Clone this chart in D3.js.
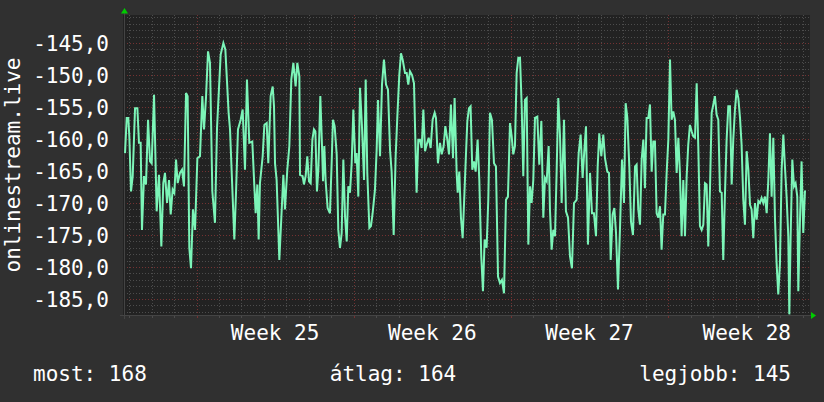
<!DOCTYPE html>
<meta charset="utf-8">
<style>

body { margin: 0; background: #303030; }
svg { display: block; }

text {
  font-family: "DejaVu Sans Mono", monospace;
  font-size: 21px;
  fill: #fff;
}

.grid-minor line {
  stroke: #4c4c4c;
  stroke-dasharray: 1,2;
}

.grid-major line {
  stroke: #743232;
  stroke-dasharray: 1,2;
}

</style>
<svg width="824" height="402"></svg>
<script src="https://d3js.org/d3.v7.min.js"></script>
<script>

// graph window: one month ending mid July
var startTime = new Date(2023, 5, 15, 18, 30),
    spanHours = 733.1;

// hours since startTime
var hours = [1.1,2.9,4.6,5.7,7.5,9.3,11.8,14.3,16.0,17.8,19.2,21.4,23.5,25.7,27.8,29.6,32.1,34.9,37.4,39.9,
  42.0,43.8,46.0,48.1,49.9,52.0,53.8,55.6,57.4,59.8,62.0,64.1,66.3,68.0,69.8,71.6,73.7,75.9,78.4,81.2,
  83.7,85.5,87.6,89.8,91.9,94.4,97.2,99.4,103.3,106.2,108.3,111.8,113.3,117.9,119.7,121.8,124.7,126.8,129.3,131.4,
  133.9,137.1,139.3,140.7,142.5,143.9,145.3,148.2,150.0,152.5,154.2,156.7,158.9,160.3,161.4,163.1,166.0,170.3,172.0,174.5,
  176.7,178.8,181.0,183.4,185.2,187.4,
  188.1,190.9,192.3,194.1,195.9,197.7,199.5,201.3,203.0,204.5,206.2,207.7,209.8,211.6,212.7,214.1,215.5,217.6,220.1,221.9,
  223.3,225.1,227.3,229.0,230.8,232.6,234.4,236.2,238.0,239.7,241.5,243.3,245.1,247.2,248.6,250.4,252.2,254.3,256.5,258.3,
  260.0,262.2,263.9,265.7,268.2,270.0,271.4,273.6,275.7,277.8,280.0,282.1,284.3,286.0,288.2,290.3,292.1,294.2,296.0,297.8,
  300.3,302.1,303.8,305.6,307.8,309.9,312.7,314.5,316.3,318.1,319.9,321.7,323.4,325.6,327.7,329.8,332.0,333.4,335.5,337.7,
  339.5,341.6,343.4,345.5,347.3,349.4,351.6,353.3,355.5,356.6,358.3,360.1,361.9,
  365.5,366.9,368.7,370.4,372.2,374.0,375.8,377.9,379.7,381.8,383.6,385.4,387.5,389.3,391.1,393.2,395.4,397.5,399.7,401.8,
  403.9,406.1,408.2,410.3,412.5,414.3,416.0,417.8,419.6,421.4,423.2,425.0,426.7,428.5,430.3,432.1,433.9,435.6,437.4,439.2,
  441.7,443.8,446.0,448.1,449.9,451.7,453.8,455.2,457.0,458.8,460.6,462.3,464.1,465.9,467.7,470.2,472.3,474.5,476.6,478.7,
  480.9,483.7,485.9,488.0,490.1,491.9,493.7,495.8,498.0,500.1,502.2,504.4,506.2,507.9,510.1,512.2,514.0,516.5,518.3,520.1,
  522.2,524.0,525.8,527.9,530.0,532.2,534.3,536.1,537.9,540.0,541.8,543.9,
  546.1,547.8,549.6,551.4,553.2,555.0,556.7,558.5,560.3,562.1,563.9,565.6,567.4,569.2,571.0,572.8,574.5,576.3,578.1,579.9,
  581.7,583.5,585.2,587.0,588.8,590.6,592.4,594.1,595.9,597.7,599.5,601.3,603.0,604.8,606.6,608.4,610.2,612.0,613.7,615.5,
  617.3,619.1,620.9,622.6,624.4,626.2,628.0,629.8,631.5,633.3,635.1,636.9,638.7,640.4,642.2,644.0,645.8,647.6,649.4,651.1,
  652.9,654.7,656.5,658.3,660.0,661.8,663.6,665.4,667.2,669.0,670.7,672.5,674.3,676.1,677.9,679.6,681.4,683.2,685.0,686.8,
  688.5,690.3,692.1,693.9,695.7,697.4,699.2,701.0,702.8,704.6,706.3,708.1,709.9,711.0,712.4,714.2,716.0,717.7,719.5,720.6,
  722.4,724.1,725.9,727.7,728.8];

var signal = [-162.2,-156.7,-156.7,-159.6,-168.2,-165.8,-155.2,-155.2,-160.6,-160.6,-174.2,-165.8,-167.1,-157.0,-163.5,-163.8,-153.1,-171.3,-165.6,-176.8,
  -166.9,-165.3,-170.0,-166.4,-171.8,-167.9,-168.4,-163.2,-166.9,-165.3,-164.8,-167.4,-152.8,-153.3,-177.0,-180.2,-171.0,-174.2,-163.0,-162.7,
  -153.3,-158.5,-153.6,-146.3,-148.1,-168.2,-173.1,-158.3,-146.8,-145.0,-146.0,-155.9,-158.5,-175.7,-168.4,-158.5,-157.0,-155.4,-164.8,-150.7,
  -160.6,-160.4,-167.4,-171.6,-167.1,-175.7,-166.9,-162.7,-157.8,-157.5,-163.8,-153.3,-151.8,-154.9,-163.8,-166.4,-178.9,-165.6,-171.0,-164.8,
  -161.1,-150.7,-148.1,-151.8,-148.1,-150.2,
  -165.6,-165.8,-167.1,-165.8,-162.7,-166.6,-166.9,-160.1,-158.5,-158.8,-168.2,-164.8,-153.3,-161.1,-166.6,-161.1,-166.6,-170.8,-171.6,-163.8,
  -157.0,-158.0,-162.4,-174.2,-177.0,-174.7,-163.2,-172.1,-176.0,-167.4,-168.4,-163.8,-155.4,-163.8,-162.2,-169.0,-152.0,-158.0,-166.4,-150.7,
  -165.3,-173.9,-173.6,-171.6,-167.9,-161.7,-153.9,-162.7,-151.5,-147.6,-151.5,-152.3,-161.7,-165.1,-175.0,-162.7,-156.5,-150.0,-146.6,-147.6,
  -149.7,-149.7,-151.5,-149.4,-150.0,-151.3,-168.4,-160.1,-160.1,-161.4,-155.4,-161.9,-160.9,-159.8,-161.4,-157.0,-155.9,-156.7,-163.8,-160.6,
  -162.4,-161.1,-158.0,-160.1,-162.4,-154.6,-163.0,-153.6,-165.3,-168.4,-165.1,-172.3,-175.5,
  -162.2,-157.2,-155.2,-154.9,-164.8,-163.5,-165.1,-160.1,-166.4,-178.3,-183.8,-175.7,-177.0,-169.5,-155.9,-157.0,-163.8,-164.3,-181.5,-182.5,
  -182.0,-184.1,-169.5,-169.0,-157.5,-159.6,-162.4,-161.1,-149.7,-147.3,-147.3,-154.9,-165.8,-153.9,-153.6,-176.5,-167.4,-170.0,-166.4,-156.7,
  -156.5,-164.0,-157.2,-172.3,-166.1,-166.6,-161.1,-171.0,-177.3,-174.2,-175.2,-165.3,-153.6,-159.3,-170.0,-157.0,-171.3,-172.3,-178.3,-180.2,
  -170.0,-169.5,-162.2,-159.3,-166.1,-161.9,-158.0,-176.5,-165.3,-171.6,-171.6,-175.2,-164.3,-159.1,-162.7,-159.3,-163.0,-165.1,-165.3,-178.9,
  -171.8,-170.8,-174.7,-183.5,-174.2,-163.2,-170.0,-154.4,-156.7,-164.3,-172.9,-175.0,
  -164.3,-164.0,-171.0,-173.4,-163.2,-160.1,-167.7,-156.7,-156.7,-154.6,-165.1,-160.4,-160.4,-171.6,-172.3,-170.5,-177.3,-171.8,-171.8,-165.3,
  -160.1,-147.6,-157.0,-155.7,-157.0,-165.3,-159.8,-165.3,-175.2,-166.4,-175.2,-165.8,-160.9,-157.8,-158.8,-159.6,-159.8,-151.3,-161.1,-173.6,
  -174.2,-173.4,-166.9,-167.1,-176.8,-167.9,-155.9,-154.6,-153.3,-156.2,-157.0,-168.2,-168.4,-178.9,-168.7,-160.1,-154.9,-154.9,-167.1,-160.1,
  -155.4,-152.3,-153.6,-156.7,-160.9,-169.5,-173.4,-161.9,-164.8,-170.3,-171.0,-175.5,-170.0,-172.6,-169.7,-170.0,-169.2,-170.0,-169.0,-171.6,
  -166.6,-159.1,-169.0,-159.8,-172.6,-179.4,-184.3,-179.4,-164.8,-159.3,-164.3,-169.0,-175.2,-187.4,-175.2,-163.2,-167.4,-166.9,-169.0,-183.8,
  -172.6,-163.5,-174.7,-168.2,-168.2];

var yDomain = [-187.5, -140.625];
var yTicks = [-185, -180, -175, -170, -165, -160, -155, -150, -145];
var yTitle = "onlinestream.live";
var legendNames = ["most", "átlag", "legjobb"];
var legendValues = [168, 164, 145];

var svg = d3.select("svg"),
    plotLeft = 124, plotRight = 810, plotTop = 15, plotBottom = 315;

var endTime = new Date(+startTime + spanHours * 36e5);

var x = d3.scaleTime().domain([startTime, endTime]).range([plotLeft, plotRight]);
var y = d3.scaleLinear().domain(yDomain).range([plotBottom, plotTop]);

var data = hours.map(function(h, i) {
  return { t: new Date(+startTime + h * 36e5), v: signal[i] };
});

var locale = d3.formatLocale({ decimal: ",", thousands: " ", grouping: [3], currency: ["", ""], minus: "-" });
var fmt = locale.format(".1f");

// plot background
svg.append("rect")
    .attr("x", plotLeft - 1).attr("y", plotTop)
    .attr("width", plotRight - plotLeft + 1).attr("height", plotBottom - plotTop)
    .attr("fill", "#222");

// grid
var minorY = d3.range(-187, -140).filter(function(v) { return v % 5 !== 0; });
var days = d3.timeDay.range(startTime, endTime).filter(function(d) { return d.getDay() !== 1; });
var mondays = d3.timeMonday.range(startTime, endTime);

function px(v) { return Math.round(v) + 0.5; }

var gMinor = svg.append("g").attr("class", "grid-minor");
gMinor.selectAll(".h").data(minorY).enter().append("line")
    .attr("x1", plotLeft).attr("x2", plotRight)
    .attr("y1", function(d) { return px(y(d)); })
    .attr("y2", function(d) { return px(y(d)); });
gMinor.selectAll(".v").data(days).enter().append("line")
    .attr("y1", plotTop).attr("y2", plotBottom)
    .attr("x1", function(d) { return px(x(d)); })
    .attr("x2", function(d) { return px(x(d)); });

var gMajor = svg.append("g").attr("class", "grid-major");
gMajor.selectAll(".h").data(yTicks).enter().append("line")
    .attr("x1", plotLeft).attr("x2", plotRight)
    .attr("y1", function(d) { return px(y(d)); })
    .attr("y2", function(d) { return px(y(d)); });
gMajor.selectAll(".v").data(mondays).enter().append("line")
    .attr("y1", plotTop).attr("y2", plotBottom)
    .attr("x1", function(d) { return px(x(d)); })
    .attr("x2", function(d) { return px(x(d)); });

// small ticks under the time axis
svg.append("g").selectAll("line").data(days.concat(mondays)).enter().append("line")
    .attr("x1", function(d) { return px(x(d)); })
    .attr("x2", function(d) { return px(x(d)); })
    .attr("y1", plotBottom).attr("y2", plotBottom + 3)
    .attr("stroke", function(d) { return d.getDay() === 1 ? "#743232" : "#4c4c4c"; });

// axes
svg.append("line").attr("x1", plotLeft - 4).attr("x2", plotRight + 2)
    .attr("y1", plotBottom + 0.5).attr("y2", plotBottom + 0.5).attr("stroke", "#444");
svg.append("line").attr("x1", plotLeft + 0.5).attr("x2", plotLeft + 0.5)
    .attr("y1", plotTop - 2).attr("y2", plotBottom + 4).attr("stroke", "#444");

// the series
svg.append("clipPath").attr("id", "plot")
  .append("rect").attr("x", plotLeft).attr("y", plotTop)
    .attr("width", plotRight - plotLeft).attr("height", plotBottom - plotTop);

var line = d3.line()
    .x(function(d) { return x(d.t); })
    .y(function(d) { return y(d.v); });

svg.append("path")
    .datum(data)
    .attr("clip-path", "url(#plot)")
    .attr("fill", "none")
    .attr("stroke", "#7cf5b8")
    .attr("stroke-width", 2)
    .attr("d", line);

// arrows
svg.append("path")
    .attr("d", "M" + (plotLeft - 3) + "," + (plotTop - 1.5) + "L" + (plotLeft + 0.5) + "," + (plotTop - 7) +
               "L" + (plotLeft + 4) + "," + (plotTop - 1.5) + "Z")
    .attr("fill", "#00cc00");
svg.append("path")
    .attr("d", "M" + (plotRight + 1) + "," + (plotBottom - 3) + "L" + (plotRight + 6) + "," + (plotBottom + 0.5) +
               "L" + (plotRight + 1) + "," + (plotBottom + 4) + "Z")
    .attr("fill", "#00cc00");

// y labels
svg.append("g").selectAll("text").data(yTicks).enter().append("text")
    .attr("x", 109)
    .attr("y", function(d) { return y(d) + 8; })
    .attr("text-anchor", "end")
    .text(function(d) { return fmt(d); });

svg.append("text")
    .attr("transform", "translate(19.5," + ((plotTop + plotBottom) / 2) + ")rotate(-90)")
    .attr("text-anchor", "middle")
    .text(yTitle);

// week labels, centred on each week
var weekFmt = d3.timeFormat("%V");
svg.append("g").selectAll("text")
    .data(mondays.filter(function(d) { return d3.timeHour.offset(d, 84) < endTime; }))
    .enter().append("text")
    .attr("x", function(d) { return x(d3.timeHour.offset(d, 84)); })
    .attr("y", 339.5)
    .attr("text-anchor", "middle")
    .text(function(d) { return "Week " + +weekFmt(d); });

// legend
var legendX = [33, 393, 791],
    legendAnchor = ["start", "middle", "end"];
svg.append("g").selectAll("text").data(legendNames).enter().append("text")
    .attr("x", function(d, i) { return legendX[i]; })
    .attr("y", 381)
    .attr("text-anchor", function(d, i) { return legendAnchor[i]; })
    .text(function(d, i) { return d + ": " + legendValues[i]; });

</script>
